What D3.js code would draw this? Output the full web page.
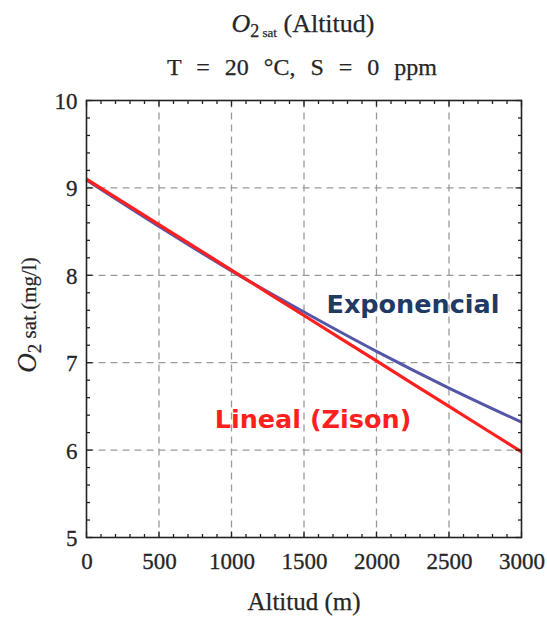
<!DOCTYPE html>
<html>
<head>
<meta charset="utf-8">
<script src="https://cdn.jsdelivr.net/npm/d3@7"></script>
<style>
  html, body { margin: 0; padding: 0; background: #fff; }
  svg { display: block; }
</style>
</head>
<body>
<svg id="chart" width="547" height="617"></svg>
<script>
// Altitude (m) sampled every 500 m
const altitude = [0, 500, 1000, 1500, 2000, 2500, 3000];
// Saturated dissolved O2 (mg/l), exponential (barometric) model
const exponencial = [9.09, 8.56, 8.05, 7.58, 7.13, 6.71, 6.32];
// Saturated dissolved O2 (mg/l), linear (Zison) model
const lineal = [9.10, 8.58, 8.06, 7.54, 7.02, 6.50, 5.98];

const xTicks = [0, 500, 1000, 1500, 2000, 2500, 3000];
const yTicks = [5, 6, 7, 8, 9, 10];

const svg = d3.select("#chart");
const m = { left: 86.5, right: 521.5, top: 100.5, bottom: 537.5 };

const x = d3.scaleLinear().domain([0, 3000]).range([m.left, m.right]);
const y = d3.scaleLinear().domain([5, 10]).range([m.bottom, m.top]);

const serif = "'Liberation Serif', 'Times New Roman', serif";
const sans = "'DejaVu Sans', Verdana, sans-serif";
const ink = "#262626";

// Dashed grid at the major ticks
const grid = svg.append("g").attr("stroke", "#9a9a9a").attr("stroke-width", 1.3)
  .attr("stroke-dasharray", "7,5");
grid.selectAll("line.v").data(xTicks.slice(1, -1)).join("line")
  .attr("x1", d => x(d)).attr("x2", d => x(d))
  .attr("y1", m.top).attr("y2", m.bottom);
grid.selectAll("line.h").data(yTicks.slice(1, -1)).join("line")
  .attr("x1", m.left).attr("x2", m.right)
  .attr("y1", d => y(d)).attr("y2", d => y(d));

// Curves
const line = d3.line().x((d, i) => x(altitude[i])).y(d => y(d)).curve(d3.curveMonotoneX);
svg.append("path").datum(exponencial).attr("d", line)
  .attr("fill", "none").attr("stroke", "#5556a8").attr("stroke-width", 3);
svg.append("path").datum(lineal).attr("d", line)
  .attr("fill", "none").attr("stroke", "#ff1f1f").attr("stroke-width", 3.2);

// Frame with inward ticks on every side (major every 500 m / 1 mg/l, minor 100 m / 0.2 mg/l)
const frameColor = "#222";
const minorX = d3.range(0, 3001, 100);
const minorY = d3.range(5, 10.001, 0.2);
const isMajorX = d => d % 500 === 0;
const isMajorY = d => Math.abs(d - Math.round(d)) < 1e-6;

const ticks = svg.append("g").attr("stroke", frameColor).attr("stroke-width", 1.3);
minorX.forEach(v => {
  const len = isMajorX(v) ? 6 : 3.5;
  ticks.append("line").attr("x1", x(v)).attr("x2", x(v)).attr("y1", m.bottom).attr("y2", m.bottom - len);
  ticks.append("line").attr("x1", x(v)).attr("x2", x(v)).attr("y1", m.top).attr("y2", m.top + len);
});
minorY.forEach(v => {
  const len = isMajorY(v) ? 6 : 3.5;
  ticks.append("line").attr("y1", y(v)).attr("y2", y(v)).attr("x1", m.left).attr("x2", m.left + len);
  ticks.append("line").attr("y1", y(v)).attr("y2", y(v)).attr("x1", m.right).attr("x2", m.right - len);
});

svg.append("rect").attr("x", m.left).attr("y", m.top)
  .attr("width", m.right - m.left).attr("height", m.bottom - m.top)
  .attr("fill", "none").attr("stroke", frameColor).attr("stroke-width", 1.6);

// Tick labels through D3 axes (lines hidden, labels kept)
const xAxis = svg.append("g").attr("transform", `translate(0,${m.bottom})`)
  .call(d3.axisBottom(x).tickValues(xTicks).tickFormat(d3.format("d")).tickSize(0).tickPadding(0));
xAxis.select(".domain").remove();
xAxis.selectAll("text").attr("font-family", serif).attr("font-size", 23)
  .attr("fill", ink).attr("stroke", ink).attr("stroke-width", 0.3)
  .attr("dy", null).attr("y", 31);

const yAxis = svg.append("g").attr("transform", `translate(${m.left},0)`)
  .call(d3.axisLeft(y).tickValues(yTicks).tickFormat(d3.format("d")).tickSize(0).tickPadding(0));
yAxis.select(".domain").remove();
yAxis.selectAll("text").attr("font-family", serif).attr("font-size", 23)
  .attr("fill", ink).attr("stroke", ink).attr("stroke-width", 0.3)
  .attr("x", -9).attr("dy", "0.35em");

// Titles
const cx = (m.left + m.right) / 2;
const t1 = svg.append("text").attr("x", cx - 1).attr("y", 32)
  .attr("text-anchor", "middle").attr("font-family", serif).attr("font-size", 26)
  .attr("fill", ink).attr("stroke", ink).attr("stroke-width", 0.25);
t1.append("tspan").attr("font-style", "italic").text("O");
t1.append("tspan").attr("font-size", 18).attr("dy", 5).text("2");
t1.append("tspan").attr("font-size", 13).text(" sat");
t1.append("tspan").attr("dy", -5).text(" (Altitud)");

svg.append("text").attr("x", cx - 2).attr("y", 75)
  .attr("text-anchor", "middle").attr("font-family", serif).attr("font-size", 24)
  .attr("word-spacing", 9).attr("fill", ink).attr("stroke", ink).attr("stroke-width", 0.25)
  .text("T = 20 °C, S = 0 ppm");

svg.append("text").attr("x", cx).attr("y", 610)
  .attr("text-anchor", "middle").attr("font-family", serif).attr("font-size", 25)
  .attr("fill", ink).attr("stroke", ink).attr("stroke-width", 0.25).text("Altitud (m)");

const yl = svg.append("text").attr("transform", `translate(36,${(m.top + m.bottom) / 2 - 4}) rotate(-90)`)
  .attr("text-anchor", "middle").attr("font-family", serif).attr("font-size", 27)
  .attr("fill", ink).attr("stroke", ink).attr("stroke-width", 0.2);
yl.append("tspan").attr("font-style", "italic").text("O");
yl.append("tspan").attr("font-size", 19).attr("dy", 5).text("2");
yl.append("tspan").attr("font-size", 21).attr("dy", -5).text(" sat.(mg/l)");

// Curve labels
svg.append("text").attr("x", 413).attr("y", 313).attr("text-anchor", "middle")
  .attr("font-family", sans).attr("font-weight", "bold").attr("font-size", 25.5)
  .attr("fill", "#1f3a64").text("Exponencial");
svg.append("text").attr("x", 313).attr("y", 428).attr("text-anchor", "middle")
  .attr("font-family", sans).attr("font-weight", "bold").attr("font-size", 25.5)
  .attr("fill", "#ff1f1f").text("Lineal (Zison)");
</script>
</body>
</html>
